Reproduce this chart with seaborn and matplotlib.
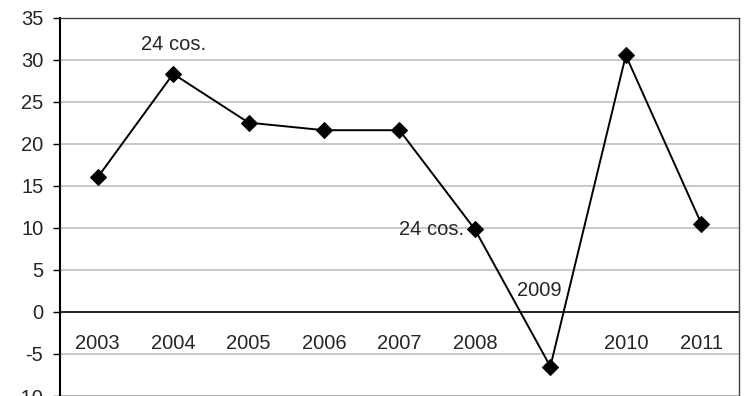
import matplotlib
matplotlib.use("Agg")
import matplotlib.pyplot as plt
import seaborn as sns
import pandas as pd

years = ["2003", "2004", "2005", "2006", "2007", "2008", "2009", "2010", "2011"]
values = [16.0, 28.3, 22.5, 21.6, 21.6, 9.8, -6.5, 30.5, 10.5]
y_ticks = [-10, -5, 0, 5, 10, 15, 20, 25, 30, 35]
notes = [("24 cos.", 1), ("24 cos.", 5)]

sns.set_theme(style="white")
plt.rcParams["font.family"] = ["Liberation Sans", "DejaVu Sans"]
FS = 14.5

df = pd.DataFrame({"pos": range(len(years)), "year": years, "value": values})

fig = plt.figure(figsize=(7.46, 3.96), dpi=100)
ax = fig.add_axes([0.0804, 0.0, 0.9102, 0.9558])

for t in y_ticks:
    if t != 0:
        ax.axhline(t, color="#c0c0c0", lw=1.2, zorder=0)
ax.axhline(0, color="black", lw=1.2, zorder=1)

sns.lineplot(data=df, x="pos", y="value", color="black", lw=1.4,
             marker="D", markersize=8.5, markeredgecolor="black", ax=ax, zorder=3)

ax.set_xlim(-0.5, len(years) - 0.5)
ax.set_ylim(-10, 35)
ax.set_yticks(y_ticks)
ax.set_yticklabels([str(t) for t in y_ticks], fontsize=FS)
ax.set_xticks([])
ax.set_xlabel("")
ax.set_ylabel("")
ax.tick_params(axis="y", direction="out", length=5, width=1, color="black", pad=7, left=True)

for sp in ["top", "right", "bottom"]:
    ax.spines[sp].set_color("#404040")
    ax.spines[sp].set_linewidth(1)
ax.spines["left"].set_color("black")
ax.spines["left"].set_linewidth(1.5)

# year labels sit inside the plot just below the zero line
for i, y in enumerate(years):
    if y == "2009":
        ax.text(i - 0.15, 2.6, y, ha="center", va="center", fontsize=FS)
    else:
        ax.text(i, -3.7, y, ha="center", va="center", fontsize=FS)

# annotations
ax.text(notes[0][1], 31.8, notes[0][0], ha="center", va="center", fontsize=FS)
ax.text(notes[1][1] - 0.14, values[notes[1][1]], notes[1][0], ha="right", va="center", fontsize=FS)

fig.savefig("out.png", dpi=100)
